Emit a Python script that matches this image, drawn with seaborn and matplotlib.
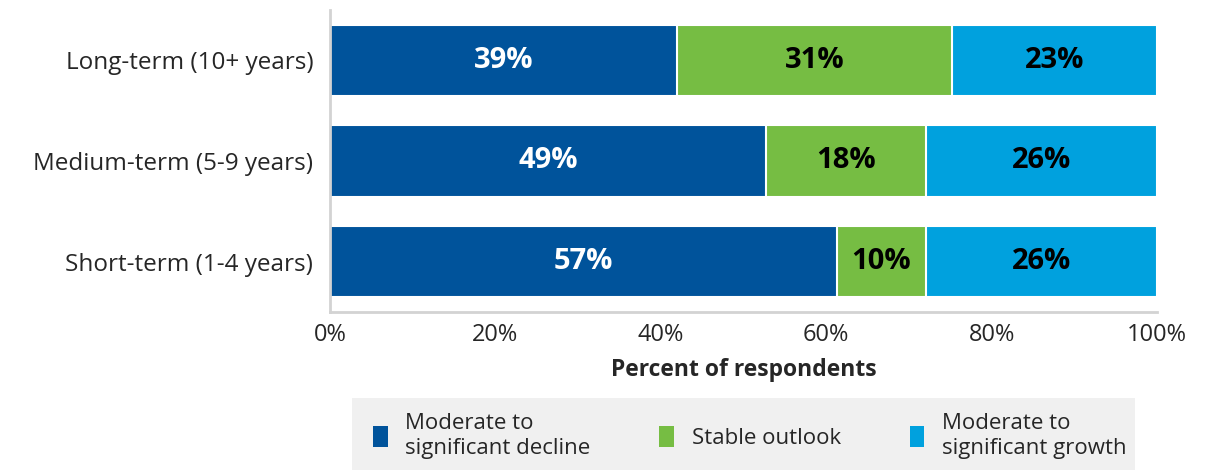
import matplotlib
matplotlib.use("Agg")
import matplotlib.pyplot as plt
import matplotlib.patches as mpatches
import seaborn as sns
import pandas as pd
import numpy as np

categories = ["Long-term (10+ years)", "Medium-term (5-9 years)", "Short-term (1-4 years)"]
series_names = ["Moderate to\nsignificant decline", "Stable outlook", "Moderate to\nsignificant growth"]
decline = [39, 49, 57]
stable = [31, 18, 10]
growth = [23, 26, 26]
colors = ["#00539B", "#76BD43", "#00A1DE"]
label_colors = ["white", "black", "black"]
xticks = [0, 20, 40, 60, 80, 100]

sns.set_theme(style="white")
font = ["Open Sans", "DejaVu Sans"]
plt.rcParams["font.family"] = font

raw = np.array([decline, stable, growth], dtype=float)
totals = raw.sum(axis=0)
shares = raw / totals * 100
cum = np.cumsum(shares, axis=0)

fig = plt.figure(figsize=(12.22, 4.70), dpi=100)
ax = fig.add_axes([330/1222, 1-312/470, (1157-330)/1222, (312-10)/470])

for i in range(2, -1, -1):
    df = pd.DataFrame({"cat": categories, "val": cum[i]})
    sns.barplot(data=df, x="val", y="cat", orient="y", color=colors[i], width=0.71,
                edgecolor="white", linewidth=1.5, saturation=1, ax=ax)

for i in range(3):
    starts = cum[i] - shares[i]
    for j in range(3):
        ax.text(starts[j] + shares[i][j] / 2, j,
                f"{int(raw[i][j])}%", ha="center", va="center",
                color=label_colors[i], fontsize=21, fontweight="bold")

ax.set_xlim(0, 100)
ax.set_ylim(2.5, -0.5)
ax.set_xticks(xticks)
ax.set_xticklabels([f"{t}%" for t in xticks], fontsize=17)
ax.set_ylabel("")
ax.set_xlabel("Percent of respondents", fontsize=16.5, fontweight="bold", labelpad=8)
ax.tick_params(axis="y", length=0, labelsize=17.5, pad=12)
ax.tick_params(axis="x", direction="in", length=7, width=1.5, color="#D3D3D3", pad=8)
for s in ["top", "right"]:
    ax.spines[s].set_visible(False)
for s in ["left", "bottom"]:
    ax.spines[s].set_color("#D3D3D3")
    ax.spines[s].set_linewidth(2)
    ax.spines[s].set_zorder(5)

# legend background
bg = mpatches.Rectangle((352/1222, 0), (1135-352)/1222, (470-398)/470,
                        transform=fig.transFigure, facecolor="#F0F0F0", edgecolor="none", zorder=0)
fig.patches.append(bg)
handles = [mpatches.Patch(facecolor=c, edgecolor="none") for c in colors]
fig.legend(handles, series_names, loc="center left", bbox_to_anchor=(362/1222, 34/470),
           ncol=3, frameon=False, fontsize=16, handlelength=0.65, handleheight=1.05,
           handletextpad=0.8, columnspacing=3.1, labelspacing=0.2, borderpad=0)

fig.savefig("out.png", dpi=100)
